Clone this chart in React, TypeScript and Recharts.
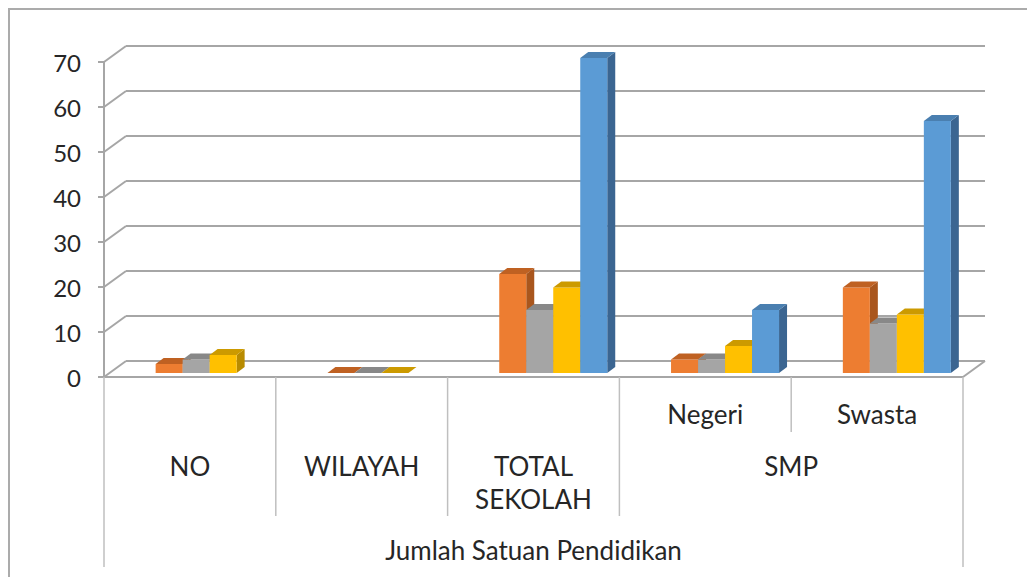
import React from "react";
import { BarChart, Bar, XAxis, YAxis, CartesianGrid } from "recharts";

// ---- data ----
const categories = ["NO", "WILAYAH", "TOTAL SEKOLAH", "Negeri", "Swasta"];
const level1Labels = ["", "", "", "Negeri", "Swasta"];
const level2Labels = ["NO", "WILAYAH", "TOTAL\nSEKOLAH", "SMP", "SMP"];
const level3Label = "Jumlah Satuan Pendidikan";
const orangeValues: (number | null)[] = [2, 0, 22, 3, 19];
const grayValues: (number | null)[] = [3, 0, 14, 3, 11];
const yellowValues: (number | null)[] = [4, 0, 19, 6, 13];
const blueValues: (number | null)[] = [null, null, 70, 14, 56];
const yTicks = [0, 10, 20, 30, 40, 50, 60, 70];

const data = categories.map((c, i) => ({
  cat: c,
  orange: orangeValues[i],
  gray: grayValues[i],
  yellow: yellowValues[i],
  blue: blueValues[i],
}));

// ---- layout ----
const CHART_W = 1018;
const CHART_H = 576;
const PLOT_LEFT = 94;
const PLOT_RIGHT = 953;
const PLOT_TOP = 52;
const PLOT_BOTTOM = 367;
const BAND = (PLOT_RIGHT - PLOT_LEFT) / categories.length;
const WALL_DX = 22;
const WALL_DY = -16;
const BAR_SX = 19;
const BAR_SY = -4;
const DEPTH_X = 8;
const DEPTH_Y = 6;
const GRID = "#A6A6A6";
const SEP = "#BFBFBF";
const FONT = "Lato, 'Liberation Sans', sans-serif";
const TXT = "#262626";
const CAT_FS = 26;
const Y_FS = 24;

const colors: Record<string, { front: string; top: string; side: string }> = {
  orange: { front: "#ED7D31", top: "#BF6122", side: "#A9561D" },
  gray: { front: "#A5A5A5", top: "#888888", side: "#777777" },
  yellow: { front: "#FFC000", top: "#CC9A00", side: "#B88B00" },
  blue: { front: "#5B9BD5", top: "#4A7FB0", side: "#3B6591" },
};

function Bar3D(props: any) {
  const { x, y, width, height, payload, k } = props;
  if (!payload || payload[k] === null || payload[k] === undefined) return null;
  const c = colors[k];
  const X = x + BAR_SX;
  const Y = y + BAR_SY;
  const w = width;
  const h = Math.max(0, height);
  const topPts = `${X},${Y} ${X + DEPTH_X},${Y - DEPTH_Y} ${X + w + DEPTH_X},${Y - DEPTH_Y} ${X + w},${Y}`;
  const sidePts = `${X + w},${Y} ${X + w + DEPTH_X},${Y - DEPTH_Y} ${X + w + DEPTH_X},${Y + h - DEPTH_Y} ${X + w},${Y + h}`;
  return (
    <g>
      {h > 0 && <polygon points={sidePts} fill={c.side} />}
      {h > 0 && <rect x={X} y={Y} width={w} height={h} fill={c.front} />}
      <polygon points={topPts} fill={c.top} />
    </g>
  );
}

function gridLine(props: any) {
  const { x1, x2, y1, index } = props;
  const isBottom = Math.abs(y1 - PLOT_BOTTOM) < 1;
  return (
    <g key={`g-${index}-${y1}`}>
      <line x1={x1 + WALL_DX} y1={y1 + WALL_DY} x2={x2 + WALL_DX} y2={y1 + WALL_DY} stroke={GRID} strokeWidth={2} />
      <line x1={x1} y1={y1} x2={x1 + WALL_DX} y2={y1 + WALL_DY} stroke={GRID} strokeWidth={2} />
      {isBottom && (
        <line x1={x2} y1={y1} x2={x2 + WALL_DX} y2={y1 + WALL_DY} stroke={GRID} strokeWidth={2} />
      )}
    </g>
  );
}

function XTick(props: any) {
  const { x, payload } = props;
  const i = payload.index;
  const left = x - BAND / 2;
  const right = x + BAND / 2;
  const els: React.ReactNode[] = [];
  const l1 = level1Labels[i];
  if (l1) {
    els.push(
      <text key="l1" x={x} y={404} textAnchor="middle" dominantBaseline="central" fontSize={CAT_FS} fill={TXT} fontFamily={FONT}>
        {l1}
      </text>
    );
    if (i > 0 && level1Labels[i - 1] && level2Labels[i - 1] === level2Labels[i]) {
      els.push(<line key="s1" x1={left} y1={PLOT_BOTTOM} x2={left} y2={422} stroke={SEP} strokeWidth={1.5} />);
    }
  }
  const l2 = level2Labels[i];
  const isGroupStart = i === 0 || level2Labels[i - 1] !== l2;
  if (isGroupStart) {
    let j = i;
    while (j + 1 < level2Labels.length && level2Labels[j + 1] === l2) j++;
    const cx = left + ((j - i + 1) * BAND) / 2;
    const lines = l2.split("\n");
    els.push(
      <text key="l2" x={cx} y={456} textAnchor="middle" dominantBaseline="central" fontSize={CAT_FS} fill={TXT} fontFamily={FONT}>
        {lines.map((ln, li) => (
          <tspan key={li} x={cx} dy={li === 0 ? 0 : 33}>
            {ln}
          </tspan>
        ))}
      </text>
    );
    if (i > 0) {
      els.push(<line key="s2" x1={left} y1={PLOT_BOTTOM} x2={left} y2={506} stroke={SEP} strokeWidth={1.5} />);
    }
  }
  if (i === 0) {
    const cx = left + (categories.length * BAND) / 2;
    els.push(
      <text key="l3" x={cx} y={540} textAnchor="middle" dominantBaseline="central" fontSize={CAT_FS} fill={TXT} fontFamily={FONT}>
        {level3Label}
      </text>
    );
    els.push(<line key="o1" x1={left} y1={PLOT_BOTTOM} x2={left} y2={557} stroke={SEP} strokeWidth={1.5} />);
  }
  if (i === categories.length - 1) {
    els.push(<line key="o2" x1={right} y1={PLOT_BOTTOM} x2={right} y2={557} stroke={SEP} strokeWidth={1.5} />);
  }
  return <g>{els}</g>;
}

function YTick(props: any) {
  const { x, y, payload } = props;
  return (
    <text x={x} y={y} textAnchor="end" dominantBaseline="central" fontSize={Y_FS} fill={TXT} fontFamily={FONT}>
      {payload.value}
    </text>
  );
}

export default function App() {
  return (
    <div
      style={{
        width: CHART_W + 4,
        height: CHART_H + 4,
        border: "2px solid #ABABAB",
        boxSizing: "border-box",
        background: "#fff",
        overflow: "hidden",
      }}
    >
      <BarChart
        width={CHART_W - 4}
        height={CHART_H}
        data={data}
        margin={{ top: PLOT_TOP, right: CHART_W - 4 - PLOT_RIGHT, bottom: 0, left: 0 }}
        barCategoryGap="19%"
        barGap={0}
      >
        <CartesianGrid vertical={false} horizontal={gridLine} stroke={GRID} />
        <XAxis
          dataKey="cat"
          interval={0}
          height={CHART_H - PLOT_BOTTOM}
          tickLine={false}
          tickSize={0}
          tick={<XTick />}
          axisLine={{ stroke: GRID, strokeWidth: 2 }}
        />
        <YAxis
          width={PLOT_LEFT}
          domain={[0, 70]}
          ticks={yTicks}
          interval={0}
          tickSize={6}
          tickMargin={17}
          tick={<YTick />}
          tickLine={{ stroke: GRID, strokeWidth: 2 }}
          axisLine={{ stroke: GRID, strokeWidth: 2 }}
        />
        <Bar dataKey="orange" fill={colors.orange.front} isAnimationActive={false} shape={(p: any) => <Bar3D {...p} k="orange" />} />
        <Bar dataKey="gray" fill={colors.gray.front} isAnimationActive={false} shape={(p: any) => <Bar3D {...p} k="gray" />} />
        <Bar dataKey="yellow" fill={colors.yellow.front} isAnimationActive={false} shape={(p: any) => <Bar3D {...p} k="yellow" />} />
        <Bar dataKey="blue" fill={colors.blue.front} isAnimationActive={false} shape={(p: any) => <Bar3D {...p} k="blue" />} />
      </BarChart>
    </div>
  );
}
